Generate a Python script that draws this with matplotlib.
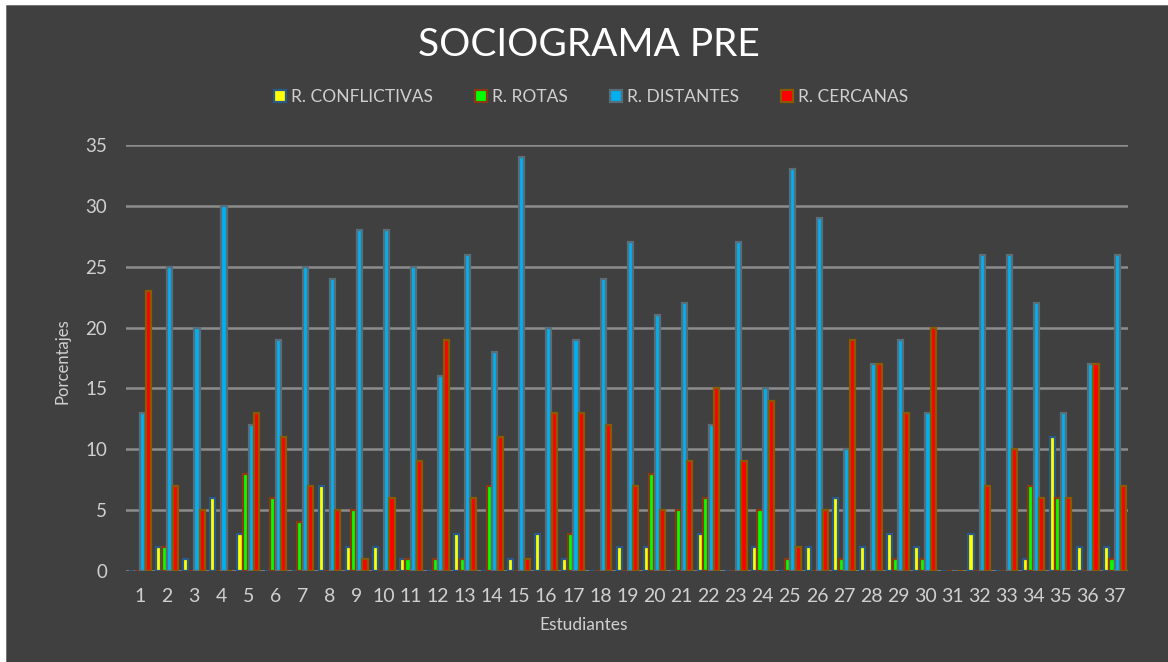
import matplotlib
matplotlib.use("Agg")
import matplotlib.pyplot as plt
from matplotlib.patches import Rectangle
import numpy as np

plt.rcParams['font.family'] = ['Lato', 'DejaVu Sans']

estudiantes = [str(i) for i in range(1, 38)]
conflictivas = [0, 2, 1, 6, 3, 0, 0, 7, 2, 2, 1, 0, 3, 0, 1, 3, 1, 0, 2, 2, 0, 3, 0, 2, 0, 2, 6, 2, 3, 2, 0, 3, 0, 1, 11, 2, 2]
rotas = [0, 2, 0, 0, 8, 6, 4, 0, 5, 0, 1, 1, 1, 7, 0, 0, 3, 0, 0, 8, 5, 6, 0, 5, 1, 0, 1, 0, 1, 1, 0, 0, 0, 7, 6, 0, 1]
distantes = [13, 25, 20, 30, 12, 19, 25, 24, 28, 28, 25, 16, 26, 18, 34, 20, 19, 24, 27, 21, 22, 12, 27, 15, 33, 29, 10, 17, 19, 13, 0, 26, 26, 22, 13, 17, 26]
cercanas = [23, 7, 5, 0, 13, 11, 7, 5, 1, 6, 9, 19, 6, 11, 1, 13, 13, 12, 7, 5, 9, 15, 9, 14, 2, 5, 19, 17, 13, 20, 0, 7, 10, 6, 6, 17, 7]
series_names = ["R. CONFLICTIVAS", "R. ROTAS", "R. DISTANTES", "R. CERCANAS"]
yticks = [0, 5, 10, 15, 20, 25, 30, 35]

bg = "#404040"
txt = "#d0d0d0"
fills = ["#ffff00", "#00ff00", "#00b0f0", "#ff0000"]
edges = ["#2a5a8a", "#8a3a10", "#5a6e7a", "#8a5a00"]

fig = plt.figure(figsize=(11.68, 6.62), dpi=100, facecolor=bg)
ax = fig.add_axes([0.1083, 0.1375, 0.966 - 0.1083, 0.781 - 0.1375])
ax.set_facecolor(bg)

x = np.arange(len(estudiantes))
w = 0.205
data = [conflictivas, rotas, distantes, cercanas]
for i, (vals, fc, ec, name) in enumerate(zip(data, fills, edges, series_names)):
    ax.bar(x + (i - 1.5) * w, vals, width=w * 0.92, color=fc, edgecolor=ec,
           linewidth=1.6, label=name, zorder=3)

ax.set_xlim(-0.5, len(estudiantes) - 0.5)
ax.set_ylim(0, 35)
ax.set_yticks(yticks)
ax.set_yticklabels([str(t) for t in yticks])
ax.set_xticks(x)
ax.set_xticklabels(estudiantes)
ax.yaxis.grid(True, color="#8c8c8c", linewidth=1.8, zorder=0)
ax.set_axisbelow(True)
for s in ax.spines.values():
    s.set_visible(False)
ax.tick_params(axis="both", length=0, colors=txt, labelsize=13.5)
ax.tick_params(axis="y", pad=14)
ax.tick_params(axis="x", pad=12, labelsize=14)

fig.text(0.0531, 0.455, "Porcentajes", rotation=90, color=txt, fontsize=12,
         ha="center", va="center")
fig.text(0.5, 0.056, "Estudiantes", color=txt, fontsize=12.5, ha="center", va="center")
fig.text(0.504, 0.932, "SOCIOGRAMA PRE", color="white", fontsize=28, ha="center", va="center")

leg = fig.legend(loc="center", bbox_to_anchor=(0.506, 0.853), ncol=4, frameon=False,
                 fontsize=12.5, labelcolor=txt, handlelength=0.7, handleheight=0.7,
                 handletextpad=0.3, columnspacing=2.4)

# light frame on left/top edges
fig.patches.append(Rectangle((0, 0), 0.0043, 1, transform=fig.transFigure, color="white", zorder=10))
fig.patches.append(Rectangle((0, 0.994), 1, 0.006, transform=fig.transFigure, color="white", zorder=10))
fig.lines.append(plt.Line2D([0.0043, 0.0043], [0, 0.994], transform=fig.transFigure, color="#a0a0a0", lw=1))
fig.lines.append(plt.Line2D([0.0043, 1], [0.994, 0.994], transform=fig.transFigure, color="#a0a0a0", lw=1))

fig.savefig("out.png", dpi=100, facecolor=bg)
